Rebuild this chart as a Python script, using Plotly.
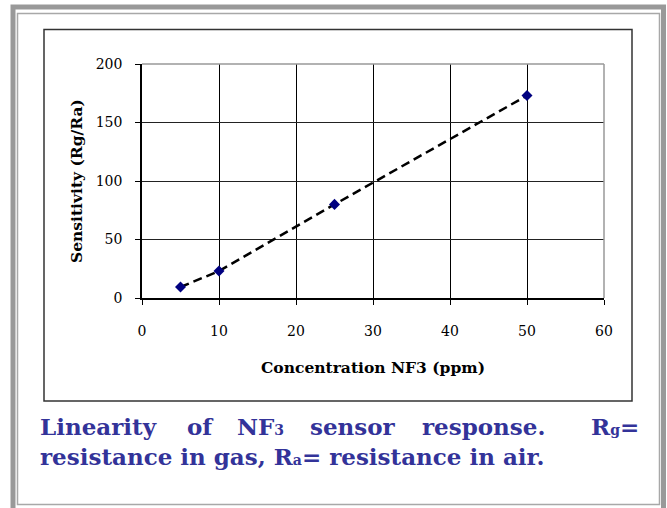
import plotly.graph_objects as go

# ---- data ----
concentration = [5, 10, 25, 50]
sensitivity = [9.4, 23, 80, 173]
x_ticks = [0, 10, 20, 30, 40, 50, 60]
y_ticks = [0, 50, 100, 150, 200]
x_title = "Concentration NF3 (ppm)"
y_title = "Sensitivity (Rg/Ra)"
SUB = '<span style="font-size:14px">{}</span>'
caption_line1 = ["Linearity", "of", "NF" + SUB.format("3"), "sensor", "response.", "R" + SUB.format("g") + "="]
caption_line2 = "resistance in gas, R" + SUB.format("a") + "= resistance in air."

W, H = 667, 508
L, R, T, B = 142, 63, 64, 210
PW, PH = W - L - R, H - T - B


def px(x):
    return (x - L) / PW


def py(y):
    return (H - B - y) / PH


SERIF = "DejaVu Serif"
CAP_COLOR = "#333399"

fig = go.Figure()
fig.add_trace(go.Scatter(
    x=concentration, y=sensitivity, mode="lines",
    line=dict(color="black", width=2.5, dash="9px,5px"),
    hoverinfo="skip", showlegend=False))
fig.add_trace(go.Scatter(
    x=concentration, y=sensitivity, mode="markers",
    marker=dict(symbol="diamond", color="#000080", size=8.5),
    showlegend=False))

shapes = [
    # outer gray frame
    dict(type="rect", xref="paper", yref="paper", x0=px(13), x1=px(663.5), y0=py(7), y1=py(511),
         line=dict(color="#999999", width=5), layer="below"),
    dict(type="rect", xref="paper", yref="paper", x0=px(17.5), x1=px(659.5), y0=py(13.5), y1=py(504.5),
         line=dict(color="#a8a8a8", width=1.5), layer="below"),
    # chart box
    dict(type="rect", xref="paper", yref="paper", x0=px(44), x1=px(632), y0=py(29.5), y1=py(401),
         line=dict(color="#333333", width=1.5), layer="below"),
    # plot-area top and right borders (gray)
    dict(type="line", xref="paper", yref="paper", x0=0, x1=1, y0=1, y1=1,
         line=dict(color="#999999", width=1.5), layer="above"),
    dict(type="line", xref="paper", yref="paper", x0=1, x1=1, y0=0, y1=1,
         line=dict(color="#999999", width=1.5), layer="above"),
]

annotations = [
    dict(text=f"<b>{x_title}</b>", xref="paper", yref="paper", x=px(373), y=py(367),
         xanchor="center", yanchor="middle", showarrow=False,
         font=dict(family=SERIF, size=15.5, color="black")),
    dict(text=f"<b>{y_title}</b>", xref="paper", yref="paper", x=px(76), y=py(181),
         xanchor="center", yanchor="middle", showarrow=False, textangle=-90,
         font=dict(family=SERIF, size=15.5, color="black")),
]

cap_font = dict(family=SERIF, size=23, color=CAP_COLOR)
# line 1 (justified)
line1_pos = [(38, "left"), (200, "center"), (260, "center"), (352.5, "center"), (483, "center"), (641, "right")]
for word, (xpos, anchor) in zip(caption_line1, line1_pos):
    annotations.append(dict(text=f"<b>{word}</b>", xref="paper", yref="paper", x=px(xpos), y=py(426),
                            xanchor=anchor, yanchor="middle", showarrow=False, font=cap_font))
annotations.append(dict(text=f"<b>{caption_line2}</b>", xref="paper", yref="paper", x=px(38), y=py(456),
                        xanchor="left", yanchor="middle", showarrow=False, font=cap_font))

fig.update_layout(
    width=W, height=H,
    margin=dict(l=L, r=R, t=T, b=B),
    paper_bgcolor="white", plot_bgcolor="white",
    shapes=shapes, annotations=annotations,
    xaxis=dict(range=[0, 60], tickvals=x_ticks, showgrid=True, gridcolor="black", gridwidth=1,
               showline=True, linecolor="black", linewidth=1.5, ticks="outside", ticklen=5,
               tickcolor="black", zeroline=False, ticklabelstandoff=14,
               tickfont=dict(family=SERIF, size=14, color="black"), fixedrange=True),
    yaxis=dict(range=[0, 200], tickvals=y_ticks, showgrid=True, gridcolor="#222222", gridwidth=1,
               showline=True, linecolor="black", linewidth=1.5, ticks="outside", ticklen=5,
               tickcolor="black", zeroline=False, ticklabelstandoff=10,
               tickfont=dict(family=SERIF, size=14, color="black"), fixedrange=True),
)

fig.write_html("out.html", config={"displayModeBar": False},
               post_script="document.body.style.margin='0';")
